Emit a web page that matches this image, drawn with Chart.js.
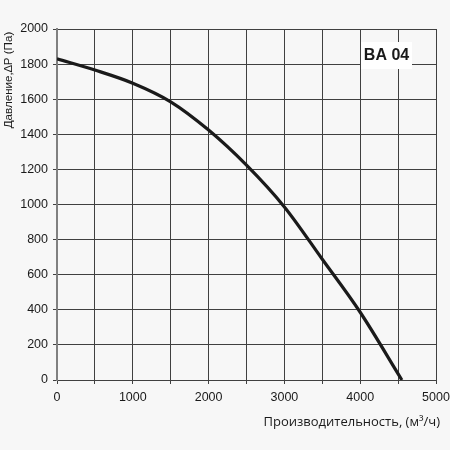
<!DOCTYPE html>
<html>
<head>
<meta charset="utf-8">
<script src="https://cdn.jsdelivr.net/npm/chart.js@4"></script>
<style>
  html, body { margin: 0; padding: 0; background: #f7f7f7; }
  #wrap { width: 450px; height: 450px; }
</style>
</head>
<body>
<div id="wrap"><canvas id="c" width="450" height="450"></canvas></div>
<script>
// Data
const flowValues = [0, 500, 1000, 1500, 2000, 2500, 3000, 3500, 4000, 4550];
const pressureValues = [1830, 1766, 1691, 1585, 1424, 1224, 986, 688, 386, 0];
const xTickLabels = [0, 1000, 2000, 3000, 4000, 5000];
const yTickLabels = [0, 200, 400, 600, 800, 1000, 1200, 1400, 1600, 1800, 2000];
const modelLabel = 'BA 04';
const xTitle = 'Производительность, (м³/ч)';
const yTitle = 'Давление,∆P (Па)';

const points = flowValues.map((x, i) => ({ x: x, y: pressureValues[i] }));

const annotations = {
  id: 'annotations',
  afterDraw(chart) {
    const ctx = chart.ctx;
    const a = chart.chartArea;
    ctx.save();
    // model label box
    ctx.fillStyle = '#ffffff';
    ctx.fillRect(a.right - 75, a.top + 13, 51, 27);
    ctx.fillStyle = '#1a1a1a';
    ctx.font = 'bold 16px "Liberation Sans", Arial, sans-serif';
    ctx.textAlign = 'center';
    ctx.textBaseline = 'middle';
    ctx.fillText(modelLabel, a.right - 49.5, a.top + 27);
    // x title
    ctx.font = '13px "Open Sans", sans-serif';
    ctx.textAlign = 'right';
    ctx.fillStyle = '#1a1a1a';
    ctx.fillText(xTitle, a.right + 4, 422);
    // y title
    ctx.translate(8.5, 80);
    ctx.rotate(-Math.PI / 2);
    ctx.textAlign = 'center';
    ctx.font = '11.6px "Liberation Sans", Arial, sans-serif';
    ctx.fillText(yTitle, 0, 0);
    ctx.restore();
  }
};

new Chart(document.getElementById('c'), {
  type: 'line',
  data: {
    datasets: [{
      data: points,
      borderColor: '#1a1a1a',
      borderWidth: 3.2,
      pointRadius: 0,
      cubicInterpolationMode: 'monotone',
      fill: false
    }]
  },
  options: {
    responsive: false,
    animation: false,
    devicePixelRatio: 1,
    layout: { padding: { left: 0, right: 14, top: 29, bottom: 0 } },
    plugins: { legend: { display: false }, tooltip: { enabled: false } },
    scales: {
      x: {
        type: 'linear',
        min: 0, max: 5000,
        afterBuildTicks(scale) {
          const t = [];
          for (let v = 0; v <= 5000; v += 500) t.push({ value: v });
          scale.ticks = t;
        },
        afterFit(scale) { scale.height = 70; scale.paddingLeft = 0; scale.paddingRight = 0; },
        grid: { color: '#404040', lineWidth: 1, tickLength: 4, tickColor: '#404040' },
        border: { display: false },
        ticks: {
          autoSkip: false,
          maxRotation: 0,
          padding: 6,
          color: '#1a1a1a',
          font: { family: '"Liberation Sans", Arial, sans-serif', size: 12.5 },
          callback: (v) => xTickLabels.includes(v) ? String(v) : ''
        }
      },
      y: {
        type: 'linear',
        min: 0, max: 2000,
        afterBuildTicks(scale) {
          scale.ticks = yTickLabels.map(v => ({ value: v }));
        },
        afterFit(scale) { scale.width = 57; scale.paddingTop = 0; scale.paddingBottom = 0; },
        grid: { color: '#404040', lineWidth: 1, tickLength: 4, tickColor: '#404040' },
        border: { display: true, color: '#808080', width: 2 },
        ticks: {
          padding: 5,
          color: '#1a1a1a',
          font: { family: '"Liberation Sans", Arial, sans-serif', size: 12.5 },
          callback: (v) => String(v)
        }
      }
    }
  },
  plugins: [annotations]
});
</script>
</body>
</html>
